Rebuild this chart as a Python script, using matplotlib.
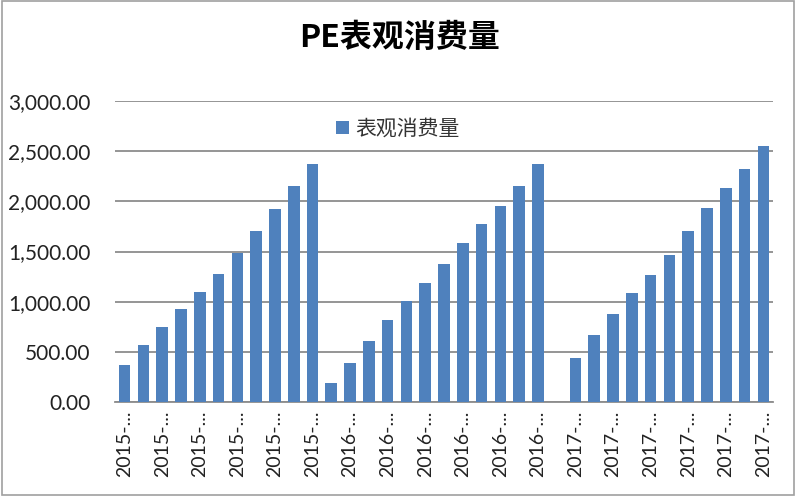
import matplotlib
matplotlib.use("Agg")

import matplotlib.pyplot as plt
from matplotlib.patches import Rectangle

plt.rcParams["font.family"] = ["Lato", "Noto Sans CJK SC", "DejaVu Sans"]

# monthly values; the 2017 group starts with one empty slot
values_2015 = [372, 568, 748, 923, 1100, 1279, 1486, 1701, 1927, 2157, 2376]
values_2016 = [189, 385, 604, 818, 1003, 1182, 1376, 1585, 1775, 1950, 2157, 2373]
values_2017 = [None, 439, 671, 877, 1087, 1266, 1469, 1701, 1937, 2130, 2323, 2555]

series_name = "表观消费量"
title = "PE表观消费量"
year_labels = ["2015-...", "2016-...", "2017-..."]

values = values_2015 + values_2016 + values_2017
years = ([year_labels[0]] * len(values_2015) + [year_labels[1]] * len(values_2016)
         + [year_labels[2]] * len(values_2017))

x = list(range(len(values)))
heights = [v if v is not None else 0 for v in values]

fig = plt.figure(figsize=(8, 5), dpi=100)
ax = fig.add_axes([0.144, 0.196, 0.822, 0.602])

ax.bar(x, heights, width=0.62, color="#4F81BD", label=series_name, zorder=3)

ax.set_ylim(0, 3000)
ax.set_xlim(-0.5, len(values) - 0.5)
ax.set_yticks(range(0, 3001, 500))
ax.set_yticklabels([f"{v:,.2f}" for v in range(0, 3001, 500)], fontsize=15, color="#222222")
ax.yaxis.grid(True, color="#8c8c8c", linewidth=1.3, zorder=0)
ax.tick_params(axis="y", length=0, pad=18)

tick_pos = x[::2]
ax.set_xticks(tick_pos)
ax.set_xticklabels([years[i] for i in tick_pos], rotation=90, fontsize=14, color="#222222")
ax.tick_params(axis="x", length=0, pad=6)

for side in ["left", "right", "top"]:
    ax.spines[side].set_visible(False)
ax.spines["bottom"].set_color("#8c8c8c")
ax.spines["bottom"].set_linewidth(1.3)

fig.suptitle(title, x=0.5, y=0.955, fontsize=23, fontweight="bold",
             family=["Noto Sans CJK SC", "DejaVu Sans"])

leg = ax.legend(loc="center", bbox_to_anchor=(0.43, 0.907), frameon=False,
                handlelength=0.6, handleheight=0.6, handletextpad=0.3,
                prop={"family": ["Noto Sans CJK SC"], "size": 15})
for t in leg.get_texts():
    t.set_color("#333333")

fig.patches.append(Rectangle((0.003, 0.01), 0.99, 0.988, transform=fig.transFigure,
                             fill=False, edgecolor="#a0a0a0", linewidth=1.2))

fig.savefig("out.png", dpi=100)
